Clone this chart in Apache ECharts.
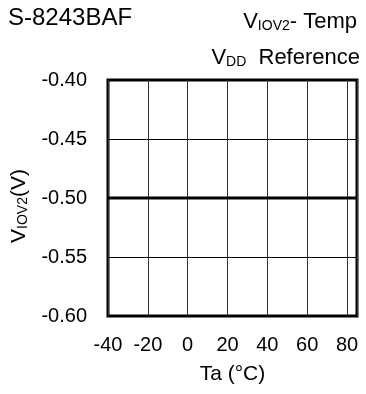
<!DOCTYPE html>
<html><head><meta charset="utf-8">
<script src="https://cdn.jsdelivr.net/npm/echarts@6/dist/echarts.min.js"></script>
<style>html,body{margin:0;padding:0;background:#fff}#c{width:366px;height:394px}</style>
</head><body><div id="c"></div>
<script>
var temps = [-40, -20, 0, 20, 40, 60, 85];
var viov2 = [-0.50, -0.50, -0.50, -0.50, -0.50, -0.50, -0.50];
var xTicks = [-40, -20, 0, 20, 40, 60, 80];
var yTicks = [-0.60, -0.55, -0.50, -0.45, -0.40];

var F = 'Liberation Sans, Arial, sans-serif';
function rich(fs, ss, pad) {
  return {
    m: {fontFamily: F, fontSize: fs, fontWeight: 'normal', color: '#000'},
    s: {fontFamily: F, fontSize: ss, fontWeight: 'normal', color: '#000', verticalAlign: 'bottom', padding: [pad, 0, 0, 0]}
  };
}
var chart = echarts.init(document.getElementById('c'), null, {renderer: 'canvas'});
chart.setOption({
  animation: false,
  backgroundColor: '#fff',
  title: [
    {text: 'S-8243BAF', left: 8, top: 6, padding: 0, textStyle: {fontFamily: F, fontSize: 24, fontWeight: 'normal', color: '#000'}},
    {text: '{m|V}{s|IOV2}{m|- Temp}', right: 9, top: 10, padding: 0, textStyle: {rich: rich(22, 14, 9)}},
    {text: '{m|V}{s|DD}{m|  Reference}', right: 6, top: 46, padding: 0, textStyle: {rich: rich(22, 14, 9)}}
  ],
  grid: {left: 108, right: 9, top: 80, bottom: 78, show: true, borderColor: '#000', borderWidth: 3, backgroundColor: 'transparent'},
  xAxis: {
    type: 'value', min: -40, max: 85, interval: 20,
    name: 'Ta (°C)', nameLocation: 'middle', nameGap: 48,
    nameTextStyle: {fontFamily: F, fontSize: 21, color: '#000'},
    axisLine: {show: false}, axisTick: {show: false},
    axisLabel: {margin: 19, fontFamily: F, fontSize: 20, color: '#000', showMaxLabel: false,
      formatter: function (v) { return xTicks.indexOf(v) >= 0 ? String(v) : ''; }},
    splitLine: {show: true, lineStyle: {color: '#333', width: 1}}
  },
  yAxis: {
    type: 'value', min: -0.60, max: -0.40, interval: 0.05,
    name: '{m|V}{s|IOV2}{m|(V)}', nameLocation: 'middle', nameGap: 74, nameRotate: 90,
    nameTextStyle: {padding: [0, 16, 0, 0], rich: rich(21, 14, 9)},
    axisLine: {show: false}, axisTick: {show: false},
    axisLabel: {margin: 21, fontFamily: F, fontSize: 20, color: '#000',
      formatter: function (v) { return v.toFixed(2); }},
    splitLine: {show: true, lineStyle: {color: '#000', width: 1}}
  },
  series: [{
    type: 'line', data: temps.map(function (t, i) { return [t, viov2[i]]; }),
    showSymbol: false, lineStyle: {color: '#000', width: 3}, z: 5
  }]
});
</script></body></html>
